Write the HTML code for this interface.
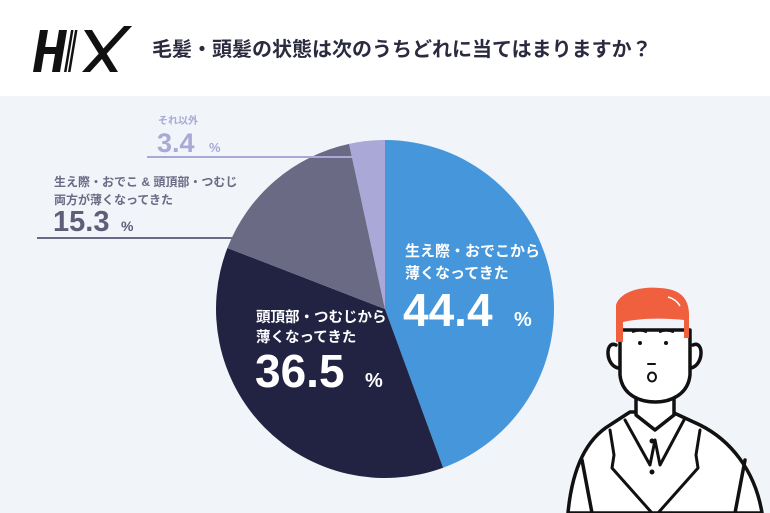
<!DOCTYPE html>
<html><head><meta charset="utf-8"><style>
html,body{margin:0;padding:0;width:770px;height:513px;overflow:hidden;background:#f1f4f9}
svg{display:block}
text{font-family:"Liberation Sans","Noto Sans CJK JP",sans-serif;font-weight:bold}
</style></head><body>
<svg width="770" height="513" viewBox="0 0 770 513" xmlns="http://www.w3.org/2000/svg">
<rect x="0" y="0" width="770" height="96" fill="#ffffff"/>
<rect x="0" y="96" width="770" height="417" fill="#f1f4f9"/>
<!-- logo -->
<g fill="#111">
<polygon points="40,30 48,30 41,72 33,72"/>
<polygon points="59,30 67,30 60,72 52,72"/>
<polygon points="38,47 62,47 61,54 37,54"/>
<polygon points="71,30 73.5,30 66.5,72 64,72"/>
<polygon points="75,30 77.5,30 70.5,72 68,72"/>
<polygon points="84,30 92,30 118,72 110,72"/>
<polygon points="124,26 132,26 90,72 82,72"/>
</g>
<text x="152" y="56" font-size="20" fill="#2b2b40">毛髪・頭髪の状態は次のうちどれに当てはまりますか？</text>
<g transform="translate(385,309)">
<path d="M0,0 L0,-169 A169,169 0 0 1 58.1,158.7 Z" fill="#4596da"/>
<path d="M0,0 L58.1,158.7 A169,169 0 0 1 -157.6,-61.0 Z" fill="#222342"/>
<path d="M0,0 L-157.6,-61.0 A169,169 0 0 1 -35.9,-165.1 Z" fill="#6b6a85"/>
<path d="M0,0 L-35.9,-165.1 A169,169 0 0 1 0,-169 Z" fill="#a9a8d6"/>
</g>
<line x1="147" y1="157" x2="356" y2="157" stroke="#a9a8d6" stroke-width="2"/>
<line x1="37" y1="238" x2="234" y2="238" stroke="#6b6a85" stroke-width="2"/>
<text x="158" y="124" font-size="10" fill="#a9a8d6">それ以外</text>
<text x="157" y="152" font-size="27" fill="#a9a8d6">3.4</text>
<text x="209" y="152" font-size="13" fill="#a9a8d6">%</text>
<text x="54" y="186" font-size="12" fill="#6b6a85">生え際・おでこ &amp; 頭頂部・つむじ</text>
<text x="54" y="204" font-size="12" fill="#6b6a85">両方が薄くなってきた</text>
<text x="53" y="231" font-size="29" fill="#5f5e78">15.3</text>
<text x="121" y="231" font-size="14" fill="#5f5e78">%</text>
<text x="405" y="256" font-size="15" fill="#fff">生え際・おでこから</text>
<text x="405" y="278" font-size="15" fill="#fff">薄くなってきた</text>
<text x="403" y="326" font-size="46" fill="#fff">44.4</text>
<text x="514" y="326" font-size="20" fill="#fff">%</text>
<text x="256" y="322" font-size="14.5" fill="#fff">頭頂部・つむじから</text>
<text x="256" y="342" font-size="14.5" fill="#fff">薄くなってきた</text>
<text x="255" y="387" font-size="46" fill="#fff">36.5</text>
<text x="365" y="387" font-size="20" fill="#fff">%</text>
<!-- person -->
<g stroke="#111" stroke-width="3.5" stroke-linecap="round" stroke-linejoin="round">
<path d="M568,513 C572,470 585,440 610,425 L630,412 L672,412 L700,425 C730,440 755,470 762,513 Z" fill="#fff"/>
<path d="M636,393 L636,415 L655,430 L674,415 L674,393" fill="#fff"/>
<path d="M616,345 C605,340 605,365 618,368" fill="#fff"/>
<path d="M693,345 C704,340 704,365 691,368" fill="#fff"/>
<path d="M620,330 L620,375 C622,395 640,402 655,402 C670,402 688,395 690,375 L690,330 Z" fill="#fff"/>
<path d="M625,420 L650,465 L655,440 L660,465 L684,420" fill="none" stroke-width="3"/>
<path d="M610,430 L614,455 L612,468 L652,513" fill="none" stroke-width="3"/>
<path d="M700,430 L696,455 L698,468 L658,513" fill="none" stroke-width="3"/>
<path d="M582,460 L592,513" fill="none"/>
<path d="M745,460 L735,513" fill="none"/>
</g>
<path d="M616,342 L616,305 C620,292 640,286 660,288 C680,289 690,298 689,318 L689,338 L684,338 L684,320 C665,318 640,318 623,322 L623,342 Z" fill="#f0603e"/>
<path d="M668,297 Q676,299 680,306" stroke="#fff" stroke-width="1.5" fill="none"/>
<g fill="#111"><circle cx="640" cy="343" r="2"/><circle cx="666" cy="343" r="2"/><circle cx="652" cy="441" r="2.5"/><circle cx="652" cy="472" r="2.5"/></g>
<ellipse cx="652" cy="377" rx="4" ry="4.5" fill="#fff" stroke="#111" stroke-width="2"/>
<path d="M633,332 Q640,329 646,332 M660,332 Q666,329 673,332 M648,364 L655,364" stroke="#111" stroke-width="2" fill="none" stroke-linecap="round"/>
</svg>
</body></html>
